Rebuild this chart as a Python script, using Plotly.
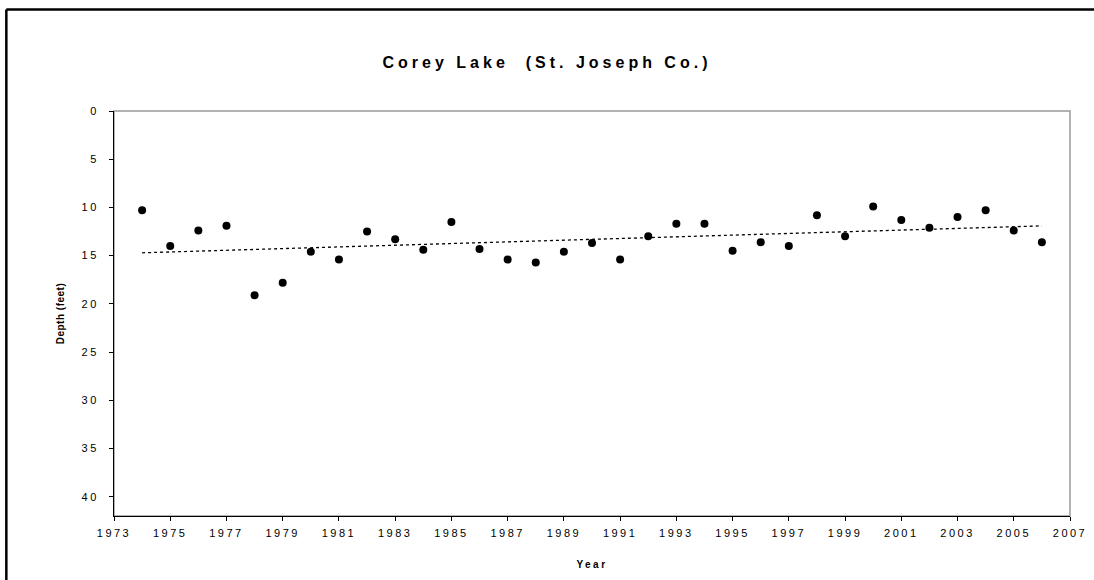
import numpy as np
import plotly.graph_objects as go

years = list(range(1974, 2007))
depth = [10.3, 14.0, 12.4, 11.9, 19.1, 17.8, 14.6, 15.4, 12.5, 13.3, 14.4,
         11.5, 14.3, 15.4, 15.7, 14.6, 13.7, 15.4, 13.0, 11.7, 11.7, 14.5,
         13.6, 14.0, 10.8, 13.0, 9.9, 11.3, 12.1, 11.0, 10.3, 12.4, 13.6]
x_ticks = list(range(1973, 2008, 2))
y_ticks = list(range(0, 45, 5))

title_text = "Corey Lake  (St. Joseph Co.)"
x_title = "Year"
y_title = "Depth (feet)"

# linear trendline (least squares) derived from the data
coef = np.polyfit(years, depth, 1)
trend_x = [years[0], years[-1]]
trend_y = list(np.polyval(coef, trend_x))

FONT = "Arial, 'Liberation Sans', sans-serif"

fig = go.Figure()
fig.add_trace(go.Scatter(x=trend_x, y=trend_y, mode="lines",
                         line=dict(color="black", width=1.3, dash="3px,3px"),
                         hoverinfo="skip", showlegend=False))
fig.add_trace(go.Scatter(x=years, y=depth, mode="markers",
                         marker=dict(color="black", size=8, line=dict(width=0)),
                         showlegend=False))

fig.update_layout(
    width=1094, height=580,
    margin=dict(l=114, r=21, t=111, b=62),
    paper_bgcolor="white", plot_bgcolor="white",
    font=dict(family=FONT, color="black", size=11),
    title=dict(text="<b>" + title_text + "</b>", x=0.5, xanchor="center",
               y=1 - 62 / 580, yanchor="middle",
               font=dict(size=16, family=FONT, color="black")),
    xaxis=dict(range=[1973, 2007], tickvals=x_ticks, ticktext=[str(v) for v in x_ticks],
               showgrid=False, zeroline=False, showline=True, linecolor="black",
               linewidth=1, ticks="outside", ticklen=4, tickcolor="black",
               ticklabelstandoff=3,
               tickfont=dict(size=11, family=FONT),
               title=dict(text="<b>" + x_title + "</b>", font=dict(size=10, family=FONT),
                          standoff=22)),
    yaxis=dict(range=[42, 0], tickvals=y_ticks, ticktext=[str(v) for v in y_ticks],
               showgrid=False, zeroline=False, showline=True, linecolor="black",
               linewidth=1, ticks="outside", ticklen=4, tickcolor="black",
               ticklabelstandoff=8,
               tickfont=dict(size=11, family=FONT),
               title=dict(text="<b>" + y_title + "</b>", font=dict(size=10, family=FONT),
                          standoff=20)),
    shapes=[
        dict(type="rect", xref="paper", yref="paper", x0=0, x1=1, y0=0, y1=1,
             line=dict(color="#999999", width=1.5), layer="below"),
        dict(type="line", xref="paper", yref="paper",
             x0=-108 / 959, x1=1.2, y0=1 + 102 / 407, y1=1 + 102 / 407,
             line=dict(color="black", width=2.5)),
        dict(type="line", xref="paper", yref="paper",
             x0=-108 / 959, x1=-108 / 959, y0=-0.3, y1=1 + 102 / 407,
             line=dict(color="black", width=2.5)),
    ],
)

post = """
document.body.style.margin='0';
function ls(){
  document.querySelectorAll('.gtitle').forEach(function(e){e.style.letterSpacing='4px';});
  document.querySelectorAll('.xtick text, .ytick text').forEach(function(e){e.style.letterSpacing='2.5px';});
  document.querySelectorAll('.xtitle').forEach(function(e){e.style.letterSpacing='2.5px';});
  document.querySelectorAll('.ytitle').forEach(function(e){e.style.letterSpacing='0.5px';});
}
ls();
var gd=document.getElementById('{plot_id}');
if(gd && gd.on){gd.on('plotly_afterplot', ls);}
setTimeout(ls, 50);
"""

fig.write_html("out.html", post_script=post, config={"displayModeBar": False})
